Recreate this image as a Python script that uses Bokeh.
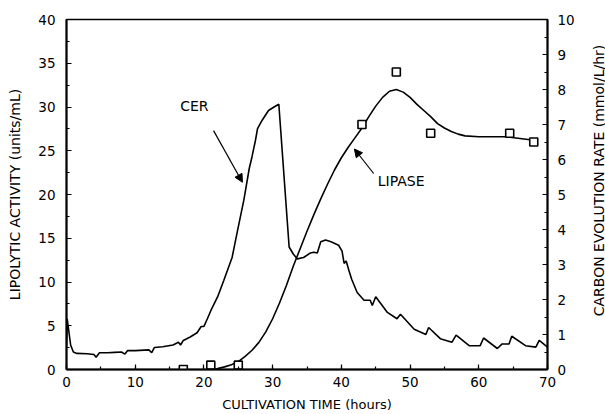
import math
from bokeh.plotting import figure
from bokeh.models import (Range1d, LinearAxis, SingleIntervalTicker, Label,
                          Arrow, NormalHead, Title)
from bokeh.embed import file_html
from bokeh.resources import INLINE

# ---- data -------------------------------------------------------------
# Carbon evolution rate (mmol/L/hr), right axis
cer_time = [0, 0.1, 0.3, 0.6, 1.0, 1.5, 3.0, 4.0, 4.3, 4.8, 6, 7, 8, 8.5, 8.9,
            10, 12, 12.4, 12.8, 14, 15.5, 16.3, 16.6, 17, 18, 19, 19.6, 20,
            20.5, 21, 22, 22.9, 24.1, 24.8, 25.8, 26.6, 27.0, 27.5, 27.8, 28.5,
            29.4, 30.2, 30.9, 32.4, 33.0, 33.6, 34.5, 35.5, 36.0, 36.5, 37.0,
            37.7, 38.5, 39.6, 40.1, 40.4, 40.7, 41.1, 41.5, 42.3, 43.3, 44.2,
            44.5, 45.0, 46.7, 48.1, 48.6, 50.6, 52.3, 52.7, 54.4, 56.1, 56.7,
            58.6, 60.2, 60.7, 62.7, 63.4, 64.4, 64.8, 66.8, 68.3, 68.8, 70]
cer_rate = [0.65, 1.45, 1.15, 0.70, 0.50, 0.46, 0.45, 0.43, 0.35, 0.48, 0.48,
            0.49, 0.50, 0.44, 0.54, 0.54, 0.56, 0.48, 0.63, 0.65, 0.70, 0.78,
            0.70, 0.83, 0.93, 1.05, 1.23, 1.23, 1.45, 1.68, 2.08, 2.55, 3.20,
            3.88, 4.83, 5.75, 6.08, 6.55, 6.88, 7.13, 7.40, 7.50, 7.58, 3.50,
            3.30, 3.16, 3.20, 3.33, 3.35, 3.33, 3.65, 3.70, 3.65, 3.55, 3.38,
            3.03, 3.10, 2.83, 2.58, 2.20, 1.98, 1.98, 1.83, 2.08, 1.63, 1.45,
            1.58, 1.15, 1.00, 1.20, 0.88, 0.78, 0.98, 0.68, 0.68, 0.90, 0.60,
            0.73, 0.73, 0.95, 0.68, 0.64, 0.83, 0.64]

# Lipolytic activity (units/mL), fitted curve, left axis
lipase_fit_time = [21.5, 22, 23, 24, 25, 26, 27, 28, 29, 30, 31, 32, 33, 34,
                   35, 36, 37, 38, 39, 40, 41, 42, 43, 44, 45, 46, 47, 48,
                   49, 50, 51, 52, 53, 54, 55, 56, 57, 58, 60, 62, 64, 66, 68]
lipase_fit = [0.0, 0.1, 0.3, 0.55, 0.9, 1.5, 2.2, 3.1, 4.3, 5.8, 7.6, 9.6,
              11.8, 13.8, 15.8, 17.7, 19.5, 21.2, 22.8, 24.2, 25.4, 26.5,
              27.6, 28.9, 30.1, 31.1, 31.8, 32.0, 31.7, 31.1, 30.3, 29.6,
              28.9, 28.1, 27.6, 27.2, 26.9, 26.7, 26.6, 26.6, 26.6, 26.4, 26.2]

# Lipolytic activity (units/mL), measured points
lipase_obs_time = [17, 21, 25, 43, 48, 53, 64.5, 68]
lipase_obs = [0.0, 0.5, 0.5, 28.0, 34.0, 27.0, 27.0, 26.0]

x_ticks_interval = 10
left_ticks_interval = 5
right_ticks_interval = 1

FONT = "DejaVu Sans"

# ---- figure -----------------------------------------------------------
p = figure(frame_width=481, frame_height=350, output_backend="svg",
           toolbar_location=None,
           x_range=Range1d(0, 70), y_range=Range1d(0, 40),
           min_border_left=66, min_border_right=58, min_border_top=19,
           min_border_bottom=44, background_fill_color="white",
           border_fill_color="white")
p.extra_y_ranges = {"cer": Range1d(0, 10)}
p.grid.visible = False
p.outline_line_color = "black"
p.outline_line_width = 1.5


def style_axis(ax):
    ax.axis_line_width = 2
    ax.axis_line_color = "black"
    ax.major_tick_in = 5
    ax.major_tick_out = 0
    ax.minor_tick_in = 3
    ax.minor_tick_out = 0
    ax.major_tick_line_width = 1.2
    ax.minor_tick_line_width = 1.2
    ax.major_label_text_font = FONT
    ax.major_label_text_font_size = "13.5px"
    ax.major_label_text_color = "black"
    ax.axis_label_text_font = FONT
    ax.axis_label_text_font_style = "normal"
    ax.axis_label_text_color = "black"


xa = p.xaxis[0]
xa.ticker = SingleIntervalTicker(interval=x_ticks_interval, num_minor_ticks=2)
style_axis(xa)
xa.major_label_standoff = 7

ya = p.yaxis[0]
ya.ticker = SingleIntervalTicker(interval=left_ticks_interval, num_minor_ticks=2)
style_axis(ya)
ya.major_label_standoff = 11
ya.axis_label = "LIPOLYTIC ACTIVITY (units/mL)"
ya.axis_label_text_font_size = "14px"
ya.axis_label_standoff = 12

ra = LinearAxis(y_range_name="cer",
                ticker=SingleIntervalTicker(interval=right_ticks_interval,
                                            num_minor_ticks=2))
style_axis(ra)
ra.major_label_standoff = 10
p.add_layout(ra, "right")

# right-hand axis title, reading bottom-to-top as in the original
p.add_layout(Label(x=21, y=189, x_units="screen", y_units="screen",
                   text="CARBON EVOLUTION RATE (mmol/L/hr)", angle=math.pi / 2,
                   text_font=FONT, text_font_size="14px", text_align="center",
                   text_baseline="middle", text_color="black"), "right")

p.add_layout(Title(text="CULTIVATION TIME (hours)", align="center",
                   offset=-22, standoff=10, text_font=FONT,
                   text_font_size="13px", text_font_style="normal",
                   text_color="black"), "below")

# ---- series ----------------------------------------------------------
p.line(cer_time, cer_rate, y_range_name="cer", line_color="black",
       line_width=1.6)
p.line(lipase_fit_time, lipase_fit, line_color="black", line_width=1.6)
p.scatter(lipase_obs_time, lipase_obs, marker="square", size=8,
          fill_color="white", line_color="black", line_width=1.6)

# ---- annotations ------------------------------------------------------
p.add_layout(Label(x=18.6, y=30.1, text="CER", text_font=FONT,
                   text_font_size="14px", text_align="center",
                   text_baseline="middle", text_color="black"))
p.add_layout(Arrow(end=NormalHead(size=8, fill_color="black",
                                  line_color="black", line_width=1),
                   x_start=21.4, y_start=27.3, x_end=25.6, y_end=21.4,
                   line_width=1.2, line_color="black"))
p.add_layout(Label(x=45.3, y=21.5, text="LIPASE", text_font=FONT,
                   text_font_size="14px", text_align="left",
                   text_baseline="middle", text_color="black"))
p.add_layout(Arrow(end=NormalHead(size=8, fill_color="black",
                                  line_color="black", line_width=1),
                   x_start=44.7, y_start=22.4, x_end=41.9, y_end=25.2,
                   line_width=1.2, line_color="black"))

open("out.html", "w").write(file_html(p, INLINE))
